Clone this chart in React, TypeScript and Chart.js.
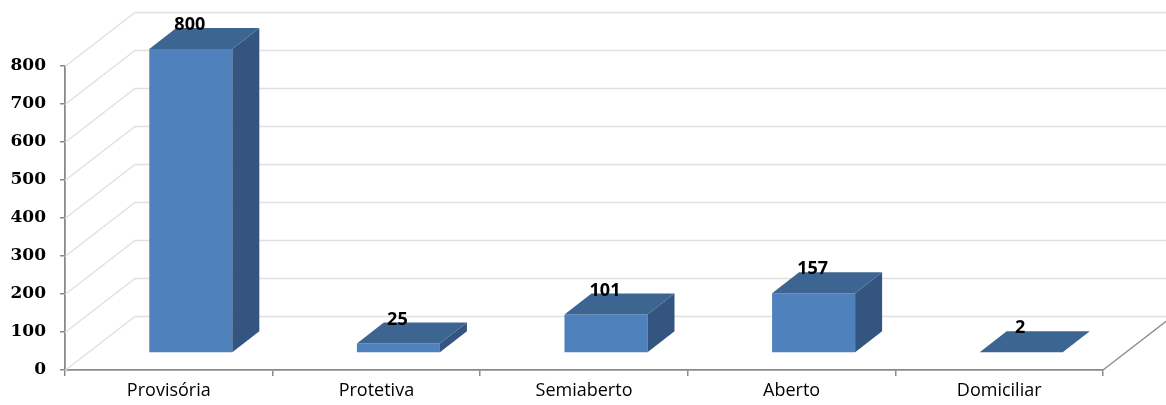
import React, { useEffect, useRef } from "react";
import { Chart, registerables } from "chart.js";

Chart.register(...registerables);

const categories = ["Provisória", "Protetiva", "Semiaberto", "Aberto", "Domiciliar"];
const values = [800, 25, 101, 157, 2];
const yMin = 0;
const yMax = 800;
const yStep = 100;

const FRONT = "#4F81BD";
const TOP = "#3D6591";
const SIDE = "#34557F";
const AXIS = "#8a8a8a";
const GRID = "#e0e0e0";

// depth geometry (px)
const WALL_DX = 70;
const WALL_DY = -54;
const BAR_OX = 22;
const BAR_OY = -17;
const BAR_DX = 27;
const BAR_DY = -21;

const threeD = {
  id: "threeD",
  beforeDatasetsDraw(chart: any) {
    const { ctx, scales, chartArea } = chart;
    const y = scales.y;
    const x = scales.x;
    ctx.save();
    ctx.lineWidth = 1.3;
    ctx.strokeStyle = GRID;
    for (let v = yMin; v <= yMax; v += yStep) {
      const py = Math.round(y.getPixelForValue(v)) + 0.5;
      ctx.beginPath();
      ctx.moveTo(chartArea.left, py);
      ctx.lineTo(chartArea.left + WALL_DX, py + WALL_DY);
      ctx.lineTo(chart.width, py + WALL_DY);
      ctx.stroke();
    }
    // right floor edge
    const py0 = y.getPixelForValue(0);
    ctx.strokeStyle = AXIS;
    ctx.lineWidth = 1.3;
    ctx.beginPath();
    ctx.moveTo(x.right, py0);
    ctx.lineTo(x.right + WALL_DX, py0 + WALL_DY);
    ctx.stroke();
    ctx.restore();
  },
  beforeDatasetDraw(chart: any) {
    chart.ctx.save();
    chart.ctx.translate(BAR_OX, BAR_OY);
  },
  afterDatasetDraw(chart: any, args: any) {
    const { ctx } = chart;
    const meta = chart.getDatasetMeta(args.index);
    meta.data.forEach((bar: any) => {
      const xl = bar.x - bar.width / 2;
      const xr = bar.x + bar.width / 2;
      const yt = bar.y;
      const yb = bar.base;
      ctx.fillStyle = SIDE;
      ctx.beginPath();
      ctx.moveTo(xr, yt);
      ctx.lineTo(xr + BAR_DX, yt + BAR_DY);
      ctx.lineTo(xr + BAR_DX, yb + BAR_DY);
      ctx.lineTo(xr, yb);
      ctx.closePath();
      ctx.fill();
      ctx.fillStyle = TOP;
      ctx.beginPath();
      ctx.moveTo(xl, yt);
      ctx.lineTo(xr, yt);
      ctx.lineTo(xr + BAR_DX, yt + BAR_DY);
      ctx.lineTo(xl + BAR_DX, yt + BAR_DY);
      ctx.closePath();
      ctx.fill();
    });
    ctx.restore();
  },
  afterDatasetsDraw(chart: any) {
    const { ctx } = chart;
    const meta = chart.getDatasetMeta(0);
    const data = chart.data.datasets[0].data;
    ctx.save();
    ctx.fillStyle = "#000";
    ctx.font = "bold 18px 'Open Sans'";
    ctx.textAlign = "center";
    ctx.textBaseline = "middle";
    meta.data.forEach((bar: any, i: number) => {
      ctx.fillText(String(data[i]), bar.x + BAR_OX - 1, bar.y + BAR_OY + BAR_DY - 3);
    });
    ctx.restore();
  },
};

export default function App() {
  const ref = useRef<HTMLCanvasElement>(null);
  useEffect(() => {
    document.body.style.margin = "0";
    const canvas = ref.current!;
    const chart = new Chart(canvas, {
      type: "bar",
      data: {
        labels: categories,
        datasets: [
          {
            data: values,
            backgroundColor: FRONT,
            borderWidth: 0,
            barPercentage: 0.4,
            categoryPercentage: 1,
            clip: false as any,
          },
        ],
      },
      options: {
        responsive: false,
        animation: false,
        devicePixelRatio: 1,
        layout: { padding: { top: 66, right: 63, left: 0, bottom: 0 } },
        plugins: { legend: { display: false }, tooltip: { enabled: false } },
        scales: {
          x: {
            grid: { display: true, drawOnChartArea: false, tickLength: 6, color: AXIS, lineWidth: 1.5, offset: true },
            border: { display: true, color: AXIS, width: 1.8 },
            ticks: { color: "#000", font: { family: "'Open Sans'", size: 18 }, padding: 4, maxRotation: 0 },
            afterFit: (s: any) => {
              s.height = 35;
            },
          },
          y: {
            min: yMin,
            max: yMax,
            ticks: {
              stepSize: yStep,
              color: "#000",
              font: { family: "'DejaVu Serif'", size: 17, weight: "bold" },
              padding: 14,
            },
            grid: { display: true, drawOnChartArea: false, tickLength: 5, color: AXIS, lineWidth: 1.5 },
            border: { display: true, color: AXIS, width: 1.8 },
            afterFit: (s: any) => {
              s.width = 65;
            },
          },
        },
      },
      plugins: [threeD],
    });
    return () => chart.destroy();
  }, []);
  return <canvas ref={ref} width={1166} height={405} style={{ display: "block", width: 1166, height: 405 }} />;
}
